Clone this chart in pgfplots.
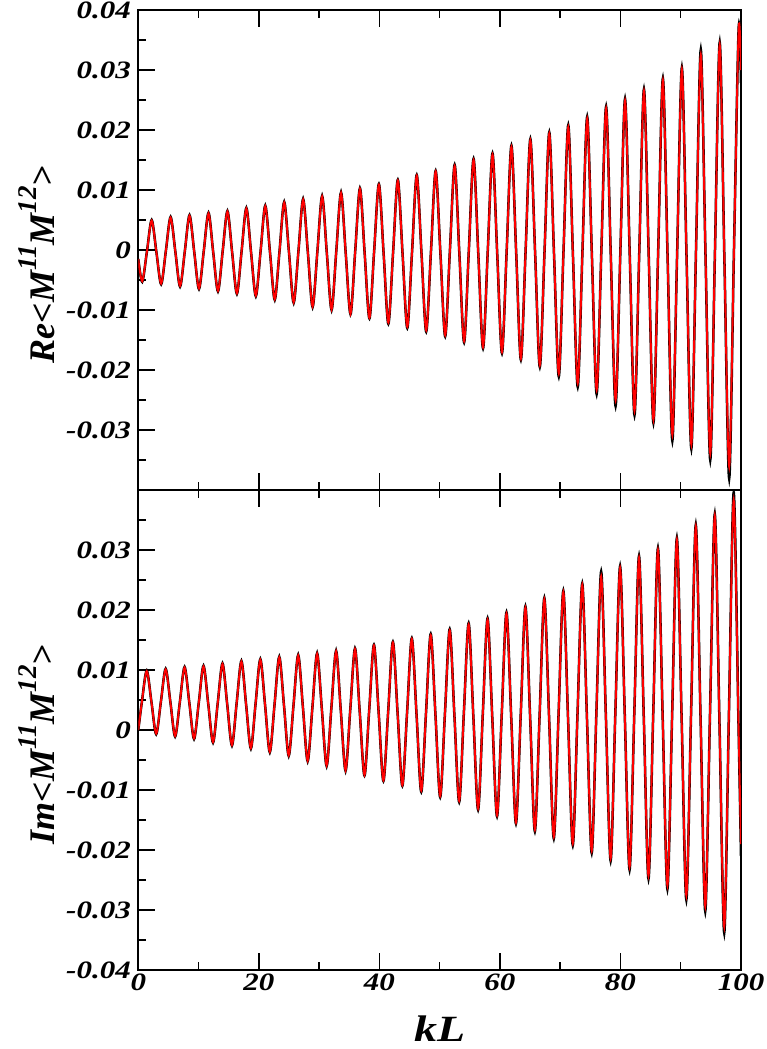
\documentclass[border=0pt]{standalone}
\usepackage{fontspec}
\setmainfont{Liberation Serif}
\newfontfamily\tfont[FakeStretch=1.24]{Liberation Serif}
\usepackage{pgfplots}
\pgfplotsset{compat=1.18}
\usepackage{pgfplotstable}

% Re part: x, black curve, red curve
\pgfplotstableread{
x blk red
0.00 -0.0015 -0.0015
0.65 -0.0053 -0.0052
1.44 -0.0002 -0.0002
2.22 0.0050 0.0049
3.01 -0.0004 -0.0004
3.79 -0.0057 -0.0056
4.58 -0.0001 -0.0001
5.36 0.0055 0.0054
6.15 -0.0003 -0.0003
6.93 -0.0061 -0.0060
7.72 -0.0002 -0.0002
8.50 0.0058 0.0057
9.29 -0.0004 -0.0004
10.07 -0.0065 -0.0064
10.86 -0.0002 -0.0002
11.65 0.0062 0.0061
12.43 -0.0004 -0.0004
13.22 -0.0069 -0.0068
14.00 -0.0002 -0.0002
14.79 0.0065 0.0064
15.57 -0.0004 -0.0004
16.36 -0.0073 -0.0072
17.14 -0.0002 -0.0002
17.93 0.0070 0.0069
18.71 -0.0004 -0.0004
19.50 -0.0077 -0.0076
20.29 -0.0002 -0.0002
21.07 0.0074 0.0073
21.86 -0.0005 -0.0005
22.64 -0.0083 -0.0082
23.43 -0.0002 -0.0002
24.21 0.0080 0.0079
25.00 -0.0004 -0.0004
25.78 -0.0088 -0.0087
26.57 -0.0002 -0.0002
27.35 0.0085 0.0084
28.14 -0.0005 -0.0005
28.92 -0.0095 -0.0094
29.71 -0.0003 -0.0003
30.50 0.0090 0.0089
31.28 -0.0005 -0.0005
32.07 -0.0100 -0.0099
32.85 -0.0002 -0.0002
33.64 0.0096 0.0095
34.42 -0.0006 -0.0006
35.21 -0.0107 -0.0106
35.99 -0.0002 -0.0002
36.78 0.0103 0.0102
37.56 -0.0006 -0.0006
38.35 -0.0114 -0.0113
39.13 -0.0002 -0.0002
39.92 0.0110 0.0109
40.71 -0.0007 -0.0007
41.49 -0.0123 -0.0121
42.28 -0.0003 -0.0003
43.06 0.0117 0.0116
43.85 -0.0007 -0.0007
44.63 -0.0130 -0.0128
45.42 -0.0003 -0.0003
46.20 0.0125 0.0124
46.99 -0.0006 -0.0006
47.77 -0.0136 -0.0134
48.56 -0.0002 -0.0002
49.34 0.0132 0.0131
50.13 -0.0006 -0.0006
50.92 -0.0144 -0.0142
51.70 -0.0001 -0.0001
52.49 0.0142 0.0140
53.27 -0.0006 -0.0006
54.06 -0.0154 -0.0152
54.84 -0.0001 -0.0001
55.63 0.0152 0.0150
56.41 -0.0006 -0.0006
57.20 -0.0164 -0.0162
57.98 -0.0002 -0.0002
58.77 0.0161 0.0159
59.55 -0.0006 -0.0006
60.34 -0.0172 -0.0170
61.13 0.0001 0.0001
61.91 0.0174 0.0172
62.70 -0.0005 -0.0005
63.48 -0.0183 -0.0181
64.27 0.0001 0.0001
65.05 0.0185 0.0183
65.84 -0.0005 -0.0005
66.62 -0.0195 -0.0192
67.41 0.0000 0.0000
68.19 0.0196 0.0194
68.98 -0.0008 -0.0008
69.77 -0.0211 -0.0206
70.55 -0.0002 -0.0002
71.34 0.0208 0.0205
72.12 -0.0010 -0.0010
72.91 -0.0228 -0.0222
73.69 -0.0003 -0.0003
74.48 0.0222 0.0219
75.26 -0.0009 -0.0009
76.05 -0.0240 -0.0233
76.83 -0.0001 -0.0001
77.62 0.0239 0.0236
78.40 -0.0011 -0.0011
79.19 -0.0260 -0.0250
79.98 -0.0004 -0.0004
80.76 0.0252 0.0249
81.55 -0.0012 -0.0012
82.33 -0.0275 -0.0268
83.12 -0.0004 -0.0004
83.90 0.0268 0.0265
84.69 -0.0010 -0.0010
85.47 -0.0288 -0.0283
86.26 -0.0001 -0.0001
87.04 0.0286 0.0283
87.83 -0.0016 -0.0016
88.61 -0.0318 -0.0308
89.40 -0.0007 -0.0007
90.19 0.0304 0.0301
90.97 -0.0014 -0.0014
91.76 -0.0331 -0.0324
92.54 0.0002 0.0002
93.33 0.0334 0.0325
94.11 -0.0008 -0.0008
94.90 -0.0350 -0.0339
95.68 -0.0002 -0.0002
96.47 0.0346 0.0342
97.25 -0.0018 -0.0018
98.04 -0.0381 -0.0361
98.82 -0.0006 -0.0006
99.61 0.0370 0.0368
100.00 0.0278 0.0300
}\retab

% Im part
\pgfplotstableread{
x blk red
0.00 0.0000 0.0000
0.61 0.0048 0.0048
1.40 0.0099 0.0098
2.19 0.0046 0.0046
2.97 -0.0007 -0.0006
3.76 0.0048 0.0048
4.54 0.0102 0.0101
5.33 0.0046 0.0046
6.11 -0.0011 -0.0010
6.90 0.0047 0.0047
7.68 0.0105 0.0104
8.47 0.0045 0.0045
9.25 -0.0015 -0.0014
10.04 0.0046 0.0046
10.82 0.0107 0.0106
11.61 0.0043 0.0043
12.40 -0.0021 -0.0020
13.18 0.0045 0.0045
13.97 0.0111 0.0110
14.75 0.0043 0.0043
15.54 -0.0026 -0.0025
16.32 0.0045 0.0045
17.11 0.0115 0.0114
17.89 0.0042 0.0042
18.68 -0.0031 -0.0030
19.46 0.0044 0.0044
20.25 0.0118 0.0117
21.04 0.0041 0.0041
21.82 -0.0037 -0.0036
22.61 0.0043 0.0043
23.39 0.0122 0.0121
24.18 0.0040 0.0040
24.96 -0.0043 -0.0042
25.75 0.0041 0.0041
26.53 0.0125 0.0124
27.32 0.0037 0.0037
28.10 -0.0052 -0.0051
28.89 0.0038 0.0038
29.67 0.0128 0.0127
30.46 0.0034 0.0034
31.25 -0.0060 -0.0059
32.03 0.0036 0.0036
32.82 0.0132 0.0131
33.60 0.0032 0.0032
34.39 -0.0068 -0.0067
35.17 0.0034 0.0034
35.96 0.0136 0.0135
36.74 0.0030 0.0030
37.53 -0.0076 -0.0075
38.31 0.0033 0.0033
39.10 0.0142 0.0141
39.88 0.0029 0.0029
40.67 -0.0085 -0.0084
41.46 0.0031 0.0031
42.24 0.0147 0.0146
43.03 0.0027 0.0027
43.81 -0.0093 -0.0092
44.60 0.0030 0.0030
45.38 0.0153 0.0152
46.17 0.0025 0.0025
46.95 -0.0103 -0.0101
47.74 0.0029 0.0029
48.52 0.0160 0.0158
49.31 0.0024 0.0024
50.09 -0.0112 -0.0110
50.88 0.0028 0.0028
51.67 0.0168 0.0166
52.45 0.0024 0.0024
53.24 -0.0120 -0.0118
54.02 0.0029 0.0029
54.81 0.0178 0.0176
55.59 0.0023 0.0023
56.38 -0.0133 -0.0131
57.16 0.0027 0.0027
57.95 0.0186 0.0184
58.73 0.0021 0.0021
59.52 -0.0144 -0.0142
60.30 0.0026 0.0026
61.09 0.0196 0.0194
61.88 0.0020 0.0020
62.66 -0.0156 -0.0154
63.45 0.0025 0.0025
64.23 0.0206 0.0204
65.02 0.0019 0.0019
65.80 -0.0169 -0.0166
66.59 0.0026 0.0026
67.37 0.0220 0.0218
68.16 0.0020 0.0020
68.94 -0.0181 -0.0178
69.73 0.0026 0.0026
70.52 0.0232 0.0230
71.30 0.0020 0.0020
72.09 -0.0192 -0.0189
72.87 0.0026 0.0026
73.66 0.0244 0.0242
74.44 0.0020 0.0020
75.23 -0.0205 -0.0201
76.01 0.0030 0.0030
76.80 0.0264 0.0256
77.58 0.0023 0.0023
78.37 -0.0218 -0.0214
79.15 0.0028 0.0028
79.94 0.0273 0.0270
80.73 0.0020 0.0020
81.51 -0.0233 -0.0228
82.30 0.0029 0.0029
83.08 0.0290 0.0287
83.87 0.0021 0.0021
84.65 -0.0248 -0.0243
85.44 0.0028 0.0028
86.22 0.0303 0.0300
87.01 0.0019 0.0019
87.79 -0.0265 -0.0259
88.58 0.0028 0.0028
89.36 0.0320 0.0317
90.15 0.0019 0.0019
90.93 -0.0283 -0.0276
91.72 0.0030 0.0030
92.50 0.0342 0.0339
93.29 0.0020 0.0020
94.07 -0.0302 -0.0294
94.86 0.0029 0.0029
95.65 0.0360 0.0357
96.43 0.0011 0.0011
97.22 -0.0338 -0.0328
98.00 0.0029 0.0029
98.79 0.0396 0.0383
99.57 0.0018 0.0018
100.00 -0.0210 -0.0190
}\imtab

\newcommand\lab{\bfseries\itshape\fontsize{36}{36}\selectfont}
\newcommand\sups[1]{\raisebox{0.5em}{\fontsize{27}{27}\selectfont #1}}

\pgfplotsset{
  panel/.style={
    scale only axis, width=602.7pt, height=480pt,
    xmin=0, xmax=100, ymin=-0.04, ymax=0.04,
    xtick={0,20,40,60,80,100}, minor x tick num=1,
    ytick={-0.04,-0.03,-0.02,-0.01,0,0.01,0.02,0.03,0.04}, minor y tick num=1,
    scaled y ticks=false,
    tick align=inside, xtick pos=both, ytick pos=left,
    major tick length=17pt, minor tick length=8pt,
    every tick/.style={black, line width=1.4pt},
    axis line style={line width=1.6pt},
    tick label style={font=\tfont\bfseries\itshape\fontsize{25}{25}\selectfont},
    yticklabel style={xshift=-4pt},
    ylabel style={at={(axis description cs:-0.168,0.47)}, anchor=center},
  },
  blk/.style={black, line width=2.5pt, smooth, no marks},
  rd/.style={red, line width=1.9pt, smooth, no marks},
}

\begin{document}
\begin{tikzpicture}
\useasboundingbox (-138.3pt,-1039pt) rectangle (627.7pt,10pt);
\begin{axis}[panel, name=top, at={(0pt,0pt)}, anchor=north west,
  xticklabels={},
  yticklabels={,-0.03,-0.02,-0.01,0,0.01,0.02,0.03,0.04},
  ylabel={\lab Re<M\sups{11}M\sups{12}>}]
  \addplot[blk] table[x=x, y=blk] {\retab};
  \addplot[rd] table[x=x, y=red] {\retab};
\end{axis}
\begin{axis}[panel, at={(top.south west)}, anchor=north west,
  xticklabels={0,20,40,60,80,100},
  yticklabels={-0.04,-0.03,-0.02,-0.01,0,0.01,0.02,0.03,},
  ylabel={\lab Im<M\sups{11}M\sups{12}>},
  xlabel={\tfont\bfseries\itshape\fontsize{37}{37}\selectfont kL},
  xlabel style={at={(axis description cs:0.5,0)}, anchor=center, yshift=-59pt}]
  \addplot[blk] table[x=x, y=blk] {\imtab};
  \addplot[rd] table[x=x, y=red] {\imtab};
\end{axis}
\end{tikzpicture}
\end{document}
